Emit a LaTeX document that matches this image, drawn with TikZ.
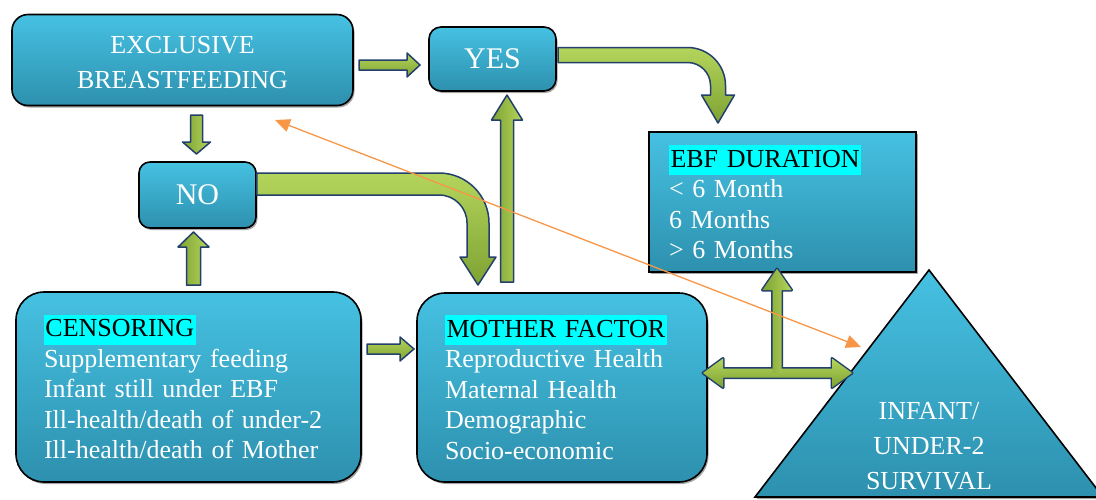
\documentclass[tikz,border=0pt]{standalone}
\usepackage{fontspec}
\setmainfont{Liberation Serif}
\usetikzlibrary{calc,shadows,arrows.meta}
\definecolor{boxtop}{HTML}{46C1E2}
\definecolor{boxbot}{HTML}{2D90AE}
\definecolor{gL}{HTML}{B4D55C}
\definecolor{gD}{HTML}{7EA233}
\definecolor{navy}{HTML}{233F6B}
\definecolor{hl}{HTML}{00FFFF}
\definecolor{orng}{HTML}{F79646}
\setlength{\fboxsep}{0pt}
\newcommand\hlt[1]{\colorbox{hl}{\rule[-8pt]{0pt}{30pt}\hspace{1.5pt}\textcolor{black}{#1}\hspace{1.5pt}}}
% style, from, to, half shaft, half head, head length
\newcommand\blockarrow[6]{%
  \draw[#1] let \p1=(#2), \p2=(#3), \n1={atan2(\y2-\y1,\x2-\x1)}, \n2={veclen(\x2-\x1,\y2-\y1)} in
  [shift={(\p1)}, rotate=\n1]
  (0pt,-#4) -- (\n2*1pt-#6,-#4) -- (\n2*1pt-#6,-#5) -- (\n2*1pt,0pt) -- (\n2*1pt-#6,#5) -- (\n2*1pt-#6,#4) -- (0pt,#4) -- cycle;}
\newcommand\dblarrow[6]{%
  \draw[#1] let \p1=(#2), \p2=(#3), \n1={atan2(\y2-\y1,\x2-\x1)}, \n2={veclen(\x2-\x1,\y2-\y1)} in
  [shift={(\p1)}, rotate=\n1]
  (0pt,0pt) -- (#6,#5) -- (#6,#4) -- (\n2*1pt-#6,#4) -- (\n2*1pt-#6,#5) -- (\n2*1pt,0pt) -- (\n2*1pt-#6,-#5) -- (\n2*1pt-#6,-#4) -- (#6,-#4) -- (#6,-#5) -- cycle;}
\tikzset{
  box/.style={draw=black, line width=1.6pt, top color=boxtop, bottom color=boxbot,
    drop shadow={shadow xshift=1.5pt, shadow yshift=-2pt, opacity=.35, fill=black},
    text=white, font=\fontsize{26}{30.5}\selectfont},
  gH/.style={draw=navy, line width=1.5pt, line join=round, top color=gL, bottom color=gD},
  gV/.style={draw=navy, line width=1.5pt, line join=round, left color=gD, right color=gL},
  gout/.style={draw=navy, line width=3pt, line join=round},
  gfillH/.style={draw=none, top color=gL, bottom color=gD},
  gfillV/.style={draw=none, left color=gD, right color=gL},
}
\begin{document}
\begin{tikzpicture}[x=1pt,y=-1pt]
\useasboundingbox (0,0) rectangle (1096,499);
% boxes
\node[box, rounded corners=16pt, minimum width=341pt, minimum height=91pt] (EB) at (182.5,60) {};
\node[text=white, align=center, font=\fontsize{26}{35}\selectfont] (EBt) at (182.5,62.5) {EXCLUSIVE\\BREASTFEEDING};
\node[box, rounded corners=12pt, minimum width=127pt, minimum height=64pt,
  font=\fontsize{30}{34}\selectfont] (YES) at (492.5,59) {YES};
\node[box, rounded corners=11pt, minimum width=117pt, minimum height=66pt,
  font=\fontsize{30}{34}\selectfont] (NO) at (197.5,195) {NO};
\node[box, minimum width=267pt, minimum height=140pt, text width=227pt, inner xsep=20pt, align=left]
  (EBF) at (782.5,202) {\hlt{EBF DURATION}\\< 6 Month\\6 Months\\> 6 Months};
\node[box, rounded corners=28pt, minimum width=345pt, minimum height=190pt, text width=289pt,
  inner xsep=28pt, align=left] (CEN) at (188.5,387)
  {\hlt{CENSORING}\\Supplementary feeding\\Infant still under EBF\\Ill-health/death of under-2\\Ill-health/death of Mother};
\node[box, rounded corners=28pt, minimum width=290pt, minimum height=189pt, text width=234pt,
  inner xsep=28pt, align=left] (MF) at (562,387.5)
  {\hlt{MOTHER FACTOR}\\Reproductive Health\\Maternal Health\\Demographic\\Socio-economic};
\draw[box] (929,270) coordinate (tri) -- (1103,497) -- (755,497) -- cycle;
\node[text=white, font=\fontsize{26}{35}\selectfont, align=center] (TT) at (929,446)
  {INFANT/\\UNDER-2\\SURVIVAL};
% connector coordinates
\coordinate (a1s) at (359,65);   \coordinate (a1e) at (420,65);
\coordinate (a2s) at (196.5,115); \coordinate (a2e) at (196.5,154);
\coordinate (a3s) at (193.5,285); \coordinate (a3e) at (193.5,232);
\coordinate (a4s) at (367,349);   \coordinate (a4e) at (414,349);
\coordinate (a5s) at (507,282);   \coordinate (a5e) at (507,95);
\coordinate (dl) at (703,373); \coordinate (dr) at (852,373);
\coordinate (dj) at (777,373); \coordinate (du) at (777,269);
\coordinate (o1) at (275,120); \coordinate (o2) at (861,347);
% straight block arrows
\blockarrow{gH}{a1s}{a1e}{5pt}{12pt}{13pt}
\blockarrow{gV}{a2s}{a2e}{6pt}{14pt}{12pt}
\blockarrow{gV}{a3s}{a3e}{7pt}{15.5pt}{15pt}
\blockarrow{gH}{a4s}{a4e}{5pt}{12pt}{14pt}
\blockarrow{gV}{a5s}{a5e}{6.5pt}{15.5pt}{25pt}
% T-shaped double arrow
\dblarrow{gout}{dl}{dr}{4.5pt}{14.5pt}{20pt}
\blockarrow{gout}{dj}{du}{4.5pt}{14.5pt}{21pt}
\dblarrow{gfillH}{dl}{dr}{4.5pt}{14.5pt}{20pt}
\blockarrow{gfillV}{dj}{du}{4.5pt}{14.5pt}{21pt}
% curved arrows
\draw[gH] (NO.east |- 0,173) -- (439,173) arc[start angle=270, end angle=360, radius=50]
  -- (489,257) -- (496,257) -- (478,285) -- (460,257) -- (467,257) -- (467,223)
  arc[start angle=0, end angle=-90, radius=28] -- (NO.east |- 0,195) -- cycle;
\draw[gH] (558,47.5) -- (687.5,47.5) arc[start angle=270, end angle=360, radius=38]
  -- (725.5,95) -- (734.5,95) -- (718,123) -- (701.5,95) -- (710.5,95) -- (710.5,85.5)
  arc[start angle=0, end angle=-90, radius=23] -- (558,62.5) -- cycle;
% orange double arrow
\draw[orng, line width=1.3pt, {Triangle[length=15pt,width=13pt]}-{Triangle[length=15pt,width=13pt]}] (o1) -- (o2);
\end{tikzpicture}
\end{document}
